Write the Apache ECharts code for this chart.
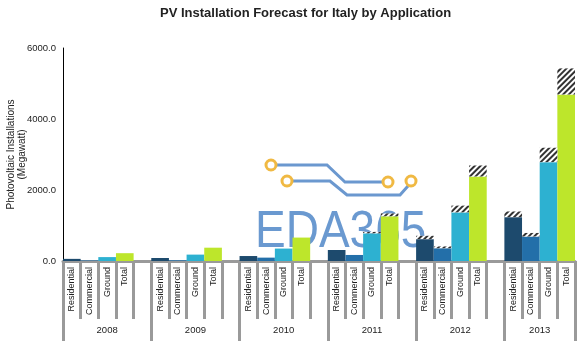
<!DOCTYPE html>
<html>
<head>
<meta charset="utf-8">
<script src="https://cdn.jsdelivr.net/npm/echarts@6/dist/echarts.min.js"></script>
<style>html,body{margin:0;padding:0;background:#fff}#c{width:585px;height:346px}</style>
</head>
<body>
<div id="c"></div>
<script>
const years = ['2008', '2009', '2010', '2011', '2012', '2013'];
const categories = ['Residential', 'Commercial', 'Ground', 'Total'];
const residential = [60, 85, 140, 310, 615, 1235];
const commercial = [15, 20, 95, 170, 360, 690];
const ground = [110, 180, 350, 780, 1370, 2785];
const total = [220, 375, 660, 1260, 2380, 4690];
const residentialUpside = [0, 0, 0, 0, 95, 160];
const commercialUpside = [0, 0, 0, 0, 50, 100];
const groundUpside = [0, 0, 0, 40, 190, 405];
const totalUpside = [0, 0, 0, 80, 310, 735];
const yTicks = [0, 2000, 4000, 6000];

const colors = ['#1d4a6d', '#236fa9', '#2db1d1', '#bde62b'];
const baseVals = [residential, commercial, ground, total];
const upVals = [residentialUpside, commercialUpside, groundUpside, totalUpside];

const slotNames = [], baseData = [], upData = [];
const groupTicks = [], groupLabelPos = [];
years.forEach((y, i) => {
  const start = slotNames.length;
  groupTicks.push(start);
  categories.forEach((c, j) => {
    slotNames.push(c);
    baseData.push({ value: baseVals[j][i], itemStyle: { color: colors[j] } });
    upData.push(upVals[j][i]);
  });
  if (i < years.length - 1) { slotNames.push(''); baseData.push('-'); upData.push('-'); }
  groupLabelPos.push(start + (slotNames.length - start) / 2);
});
groupTicks.push(slotNames.length);

const chart = echarts.init(document.getElementById('c'));
chart.setOption({
  animation: false,
  backgroundColor: '#fff',
  title: {
    text: 'PV Installation Forecast for Italy by Application',
    left: 155, top: 2,
    textStyle: { fontFamily: 'Liberation Sans, Arial', fontSize: 13, fontWeight: 'bold', color: '#222' }
  },
  grid: { left: 63, right: 10, top: 48, bottom: 85, containLabel: false, outerBoundsMode: 'none' },
  xAxis: [{
    type: 'category',
    data: slotNames,
    axisLine: { show: true, lineStyle: { color: '#9a9a9a', width: 3 } },
    axisTick: { show: true, length: 58, lineStyle: { color: '#9a9a9a', width: 3 } },
    axisLabel: { interval: 0, rotate: 90, margin: 6, fontSize: 9, color: '#222', fontFamily: 'Liberation Sans, Arial' }
  }, {
    type: 'value',
    position: 'bottom',
    min: 0, max: slotNames.length,
    axisLine: { show: false },
    splitLine: { show: false },
    axisTick: { show: true, length: 80, customValues: groupTicks, lineStyle: { color: '#9a9a9a', width: 3 } },
    axisLabel: {
      customValues: groupLabelPos, margin: 64, fontSize: 9.5, color: '#222', fontFamily: 'Liberation Sans, Arial',
      formatter: v => { const k = groupLabelPos.indexOf(v); return k >= 0 ? years[k] : ''; }
    }
  }],
  yAxis: {
    type: 'value', min: yTicks[0], max: yTicks[yTicks.length - 1], interval: yTicks[1] - yTicks[0],
    name: 'Photovoltaic Installations\n(Megawatt)',
    nameLocation: 'middle', nameGap: 35, nameRotate: 90, nameMoveOverlap: false,
    nameTextStyle: { fontSize: 10, color: '#222', lineHeight: 11, fontFamily: 'Liberation Sans, Arial' },
    axisLine: { show: true, lineStyle: { color: '#000', width: 1 } },
    axisTick: { show: false },
    splitLine: { show: false },
    axisLabel: { margin: 7, fontSize: 9.5, color: '#222', fontFamily: 'Liberation Sans, Arial', formatter: v => v.toFixed(1) }
  },
  series: [{
    type: 'bar', stack: 'a', data: baseData, barCategoryGap: '0%', xAxisIndex: 0
  }, {
    type: 'bar', stack: 'a', data: upData, barCategoryGap: '0%', xAxisIndex: 0,
    itemStyle: {
      color: '#ffffff',
      decal: { symbol: 'rect', symbolSize: 1, dashArrayX: [1, 0], dashArrayY: [1.5, 2], rotation: -Math.PI / 4, color: '#333' }
    }
  }],
  graphic: [{
    type: 'group', silent: true, z: 100,
    children: [
      { type: 'polyline', shape: { points: [[277, 165], [327, 165], [345, 182], [383, 182]] }, style: { stroke: '#6b98cf', lineWidth: 3, fill: null } },
      { type: 'polyline', shape: { points: [[292, 181], [330, 181], [347, 195], [400, 195], [408, 186]] }, style: { stroke: '#6b98cf', lineWidth: 3, fill: null } },
      { type: 'circle', shape: { cx: 271, cy: 165, r: 5 }, style: { stroke: '#f0b943', lineWidth: 3, fill: '#fff' } },
      { type: 'circle', shape: { cx: 287, cy: 181, r: 5 }, style: { stroke: '#f0b943', lineWidth: 3, fill: '#fff' } },
      { type: 'circle', shape: { cx: 388, cy: 182, r: 5 }, style: { stroke: '#f0b943', lineWidth: 3, fill: '#fff' } },
      { type: 'circle', shape: { cx: 411, cy: 181, r: 5 }, style: { stroke: '#f0b943', lineWidth: 3, fill: '#fff' } },
      { type: 'text', x: 255, y: 207, scaleY: 1.12, style: { text: 'EDA365', font: '46px "Liberation Sans", Arial', fill: 'rgba(80,135,200,0.85)' } }
    ]
  }]
});
</script>
</body>
</html>
